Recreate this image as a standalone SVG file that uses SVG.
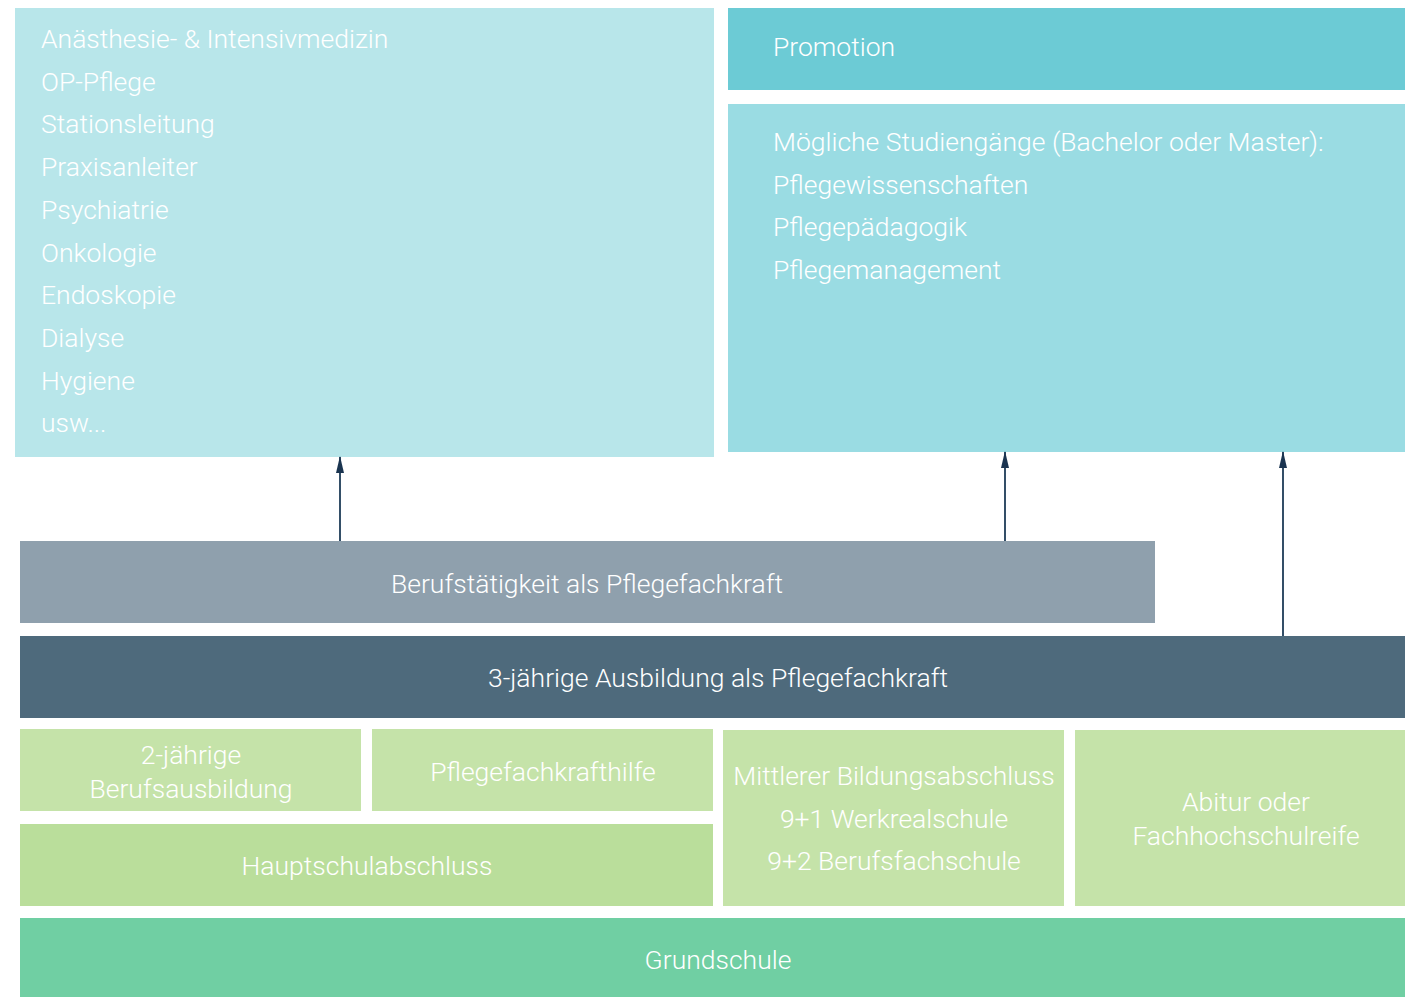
<svg xmlns="http://www.w3.org/2000/svg" width="1405" height="997" viewBox="0 0 1405 997">
<defs>
<style>
text{font-family:Roboto,"Open Sans","Liberation Sans",sans-serif;font-size:26.5px;fill:#ffffff;font-weight:300}
.c{text-anchor:middle}
.arrow{stroke:#1d3b57;stroke-width:1.8;fill:none}
</style>
<marker id="ah" markerWidth="17" markerHeight="9" refX="16" refY="4.5" orient="auto" markerUnits="userSpaceOnUse" viewBox="0 0 17 9">
<path d="M0 0.5 L17 4.5 L0 8.5 Z" fill="#1a3450"/>
</marker>
</defs>
<rect width="1405" height="997" fill="#ffffff"/>
<g id="fachweiterbildung">
<rect x="15" y="8" width="699" height="449" fill="#b8e6ea"/>
<text x="41" y="48">Anästhesie- &amp; Intensivmedizin</text>
<text x="41" y="91">OP-Pflege</text>
<text x="41" y="133">Stationsleitung</text>
<text x="41" y="176">Praxisanleiter</text>
<text x="41" y="219">Psychiatrie</text>
<text x="41" y="262">Onkologie</text>
<text x="41" y="304">Endoskopie</text>
<text x="41" y="347">Dialyse</text>
<text x="41" y="390">Hygiene</text>
<text x="41" y="432">usw...</text>
</g>
<g id="promotion">
<rect x="728" y="8" width="677" height="82" fill="#6ccbd5"/>
<text x="773" y="56">Promotion</text>
</g>
<g id="studium">
<rect x="728" y="104" width="677" height="348" fill="#9adce3"/>
<text x="773" y="151">Mögliche Studiengänge (Bachelor oder Master):</text>
<text x="773" y="194">Pflegewissenschaften</text>
<text x="773" y="236">Pflegepädagogik</text>
<text x="773" y="279">Pflegemanagement</text>
</g>
<g id="berufstaetigkeit">
<rect x="20" y="541" width="1135" height="82" fill="#8fa0ad"/>
<text class="c" x="587" y="593">Berufstätigkeit als Pflegefachkraft</text>
</g>
<g id="ausbildung">
<rect x="20" y="636" width="1385" height="82" fill="#4e6a7c"/>
<text class="c" x="718" y="687">3-jährige Ausbildung als Pflegefachkraft</text>
</g>
<g id="berufsausbildung">
<rect x="20" y="729" width="341" height="82" fill="#c5e3a9"/>
<text class="c" x="191" y="764">2-jährige</text>
<text class="c" x="191" y="798">Berufsausbildung</text>
</g>
<g id="pflegefachkrafthilfe">
<rect x="372" y="729" width="341" height="82" fill="#c5e3a9"/>
<text class="c" x="543" y="781">Pflegefachkrafthilfe</text>
</g>
<g id="hauptschulabschluss">
<rect x="20" y="824" width="693" height="82" fill="#bade9b"/>
<text class="c" x="367" y="875">Hauptschulabschluss</text>
</g>
<g id="mittlerer">
<rect x="723" y="730" width="341" height="176" fill="#c5e3a9"/>
<text class="c" x="894" y="785">Mittlerer Bildungsabschluss</text>
<text class="c" x="894" y="828">9+1 Werkrealschule</text>
<text class="c" x="894" y="870">9+2 Berufsfachschule</text>
</g>
<g id="abitur">
<rect x="1075" y="730" width="330" height="176" fill="#c5e3a9"/>
<text class="c" x="1246" y="811">Abitur oder</text>
<text class="c" x="1246" y="845">Fachhochschulreife</text>
</g>
<g id="grundschule">
<rect x="20" y="918" width="1385" height="79" fill="#70cfa3"/>
<text class="c" x="718" y="969">Grundschule</text>
</g>
<g id="connectors">
<line class="arrow" x1="340" y1="541" x2="340" y2="457" marker-end="url(#ah)"/>
<line class="arrow" x1="1005" y1="541" x2="1005" y2="452" marker-end="url(#ah)"/>
<line class="arrow" x1="1283" y1="636" x2="1283" y2="452" marker-end="url(#ah)"/>
</g>
</svg>
